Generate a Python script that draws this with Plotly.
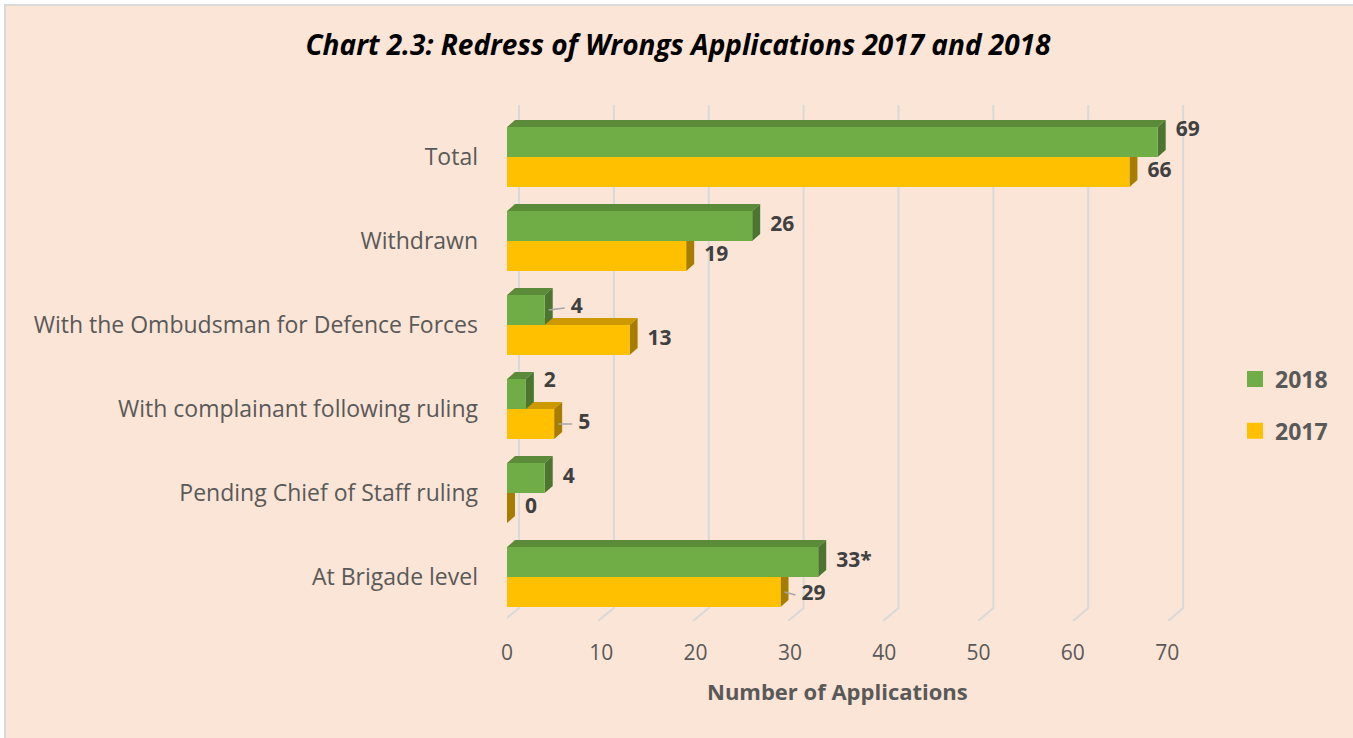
import plotly.graph_objects as go

# ---------------- data ----------------
categories = ["Total", "Withdrawn", "With the Ombudsman for Defence Forces",
              "With complainant following ruling", "Pending Chief of Staff ruling",
              "At Brigade level"]
values_2018 = [69, 26, 4, 2, 4, 33]
values_2017 = [66, 19, 13, 5, 0, 29]
labels_2018 = ["69", "26", "4", "2", "4", "33*"]
labels_2017 = ["66", "19", "13", "5", "0", "29"]
x_ticks = [0, 10, 20, 30, 40, 50, 60, 70]
series_names = ["2018", "2017"]

# ---------------- layout constants ----------------
W, H = 1353, 738
ML, MR, MT, MB = 507, 167, 100, 117
XMAX = 72
plot_w = W - ML - MR
plot_h = H - MT - MB
UPY = 84.0                      # px per category
YMIN = -44 / UPY
YMAX = YMIN + plot_h / UPY
ux = plot_w / XMAX              # px per x unit


def px2x(p):
    return p / ux


def px2y(p):
    return p / UPY


HALF = px2y(15)
DX, DY = px2x(8), px2y(7)
BG = "#FBE5D6"
GREEN = {"front": "#70AD47", "top": "#5B8B39", "side": "#4B7530"}
GOLD = {"front": "#FFC000", "top": "#CC9A00", "side": "#A67D00"}
FONT = "Open Sans"

n = len(categories)
pos = [n - 1 - i for i in range(n)]

fig = go.Figure()

# ---------------- 3D-ish gridlines (back wall + floor) ----------------
gx, gy = [], []
for t in x_ticks:
    frac = t / x_ticks[-1]
    back = t + px2x(12 + 4 * frac)
    foot = t + px2x(-4 + 5 * frac)
    gx += [back, back, foot, None]
    gy += [YMAX - px2y(5), YMIN + px2y(13), YMIN, None]
fig.add_trace(go.Scatter(x=gx, y=gy, mode="lines", line=dict(color="#D9D9D9", width=2),
                         hoverinfo="skip", showlegend=False))


def faces(vals, upper):
    out = {"front": ([], []), "top": ([], []), "side": ([], [])}
    for v, yc in zip(vals, pos):
        lo = yc if upper else yc - 2 * HALF
        hi = lo + 2 * HALF
        fx, fy = out["front"]
        fx += [0, v, v, 0, 0, None]
        fy += [lo, lo, hi, hi, lo, None]
        tx, ty = out["top"]
        tx += [0, v, v + DX, DX, 0, None]
        ty += [hi, hi, hi + DY, hi + DY, hi, None]
        sx, sy = out["side"]
        sx += [v, v + DX, v + DX, v, v, None]
        sy += [lo, lo + DY, hi + DY, hi, lo, None]
    return out


for vals, upper, cols in [(values_2017, False, GOLD), (values_2018, True, GREEN)]:
    f = faces(vals, upper)
    for key in ["top", "side", "front"]:
        xs, ys = f[key]
        fig.add_trace(go.Scatter(x=xs, y=ys, mode="lines", fill="toself",
                                 fillcolor=cols[key], line=dict(width=0, color=cols[key]),
                                 hoverinfo="skip", showlegend=False))

# ---------------- data labels ----------------
# nudges: (series, index) -> (dx px, dy px up, leader line)
nudges = {("2018", 0): (0, 11, False), ("2018", 2): (8, 2, True),
          ("2018", 3): (0, 12, False), ("2017", 3): (6, 0, True),
          ("2017", 5): (3, -3, True)}
lx, ly, lt = [], [], []
leadx, leady = [], []
for name, vals, labs, upper in [("2018", values_2018, labels_2018, True),
                                ("2017", values_2017, labels_2017, False)]:
    for i, (v, lab) in enumerate(zip(vals, labs)):
        yc = pos[i] + (HALF if upper else -HALF)
        ndx, ndy, lead = nudges.get((name, i), (0, 0, False))
        x = v + px2x(18 + ndx)
        y = yc + px2y(ndy)
        lx.append(x)
        ly.append(y)
        lt.append(lab)
        if lead:
            leadx += [v + px2x(4), x - px2x(6), None]
            leady += [yc, y, None]
fig.add_trace(go.Scatter(x=leadx, y=leady, mode="lines", line=dict(color="#A6A6A6", width=1.5),
                         hoverinfo="skip", showlegend=False))
fig.add_trace(go.Scatter(x=lx, y=ly, text=lt, mode="text", textposition="middle right",
                         textfont=dict(family=FONT, size=21, color="#404040", weight="bold"),
                         cliponaxis=False, hoverinfo="skip", showlegend=False))

# ---------------- legend entries ----------------
for name, col in [("2018", GREEN["front"]), ("2017", GOLD["front"])]:
    fig.add_trace(go.Scatter(x=[None], y=[None], mode="markers", name=name, legendgroup=name,
                             marker=dict(symbol="square", size=16, color=col)))

# ---------------- layout ----------------
fig.update_layout(
    width=W, height=H,
    margin=dict(l=ML, r=MR, t=MT, b=MB, pad=0),
    paper_bgcolor="white", plot_bgcolor="rgba(0,0,0,0)",
    font=dict(family=FONT, color="#595959"),
    title=dict(text="Chart 2.3: Redress of Wrongs Applications 2017 and 2018",
               x=(678) / W, xanchor="center", y=1 - 45 / H, yanchor="middle",
               font=dict(family=FONT, size=28, color="black", weight="bold", style="italic")),
    xaxis=dict(range=[0, XMAX], tickvals=x_ticks, showgrid=False, zeroline=False,
               showline=False, ticks="", tickfont=dict(size=21, color="#595959"),
               ticklabelstandoff=17, fixedrange=True),
    yaxis=dict(range=[YMIN, YMAX], tickvals=pos, ticktext=categories, showgrid=False,
               zeroline=False, showline=False, ticks="",
               tickfont=dict(size=23, color="#595959"), ticklabelstandoff=28, fixedrange=True),
    legend=dict(x=(1235 - ML) / plot_w, xanchor="left", y=(H - MB - 405) / plot_h,
                yanchor="middle", traceorder="grouped", tracegroupgap=19,
                font=dict(size=23, color="#595959", weight="bold"),
                bgcolor="rgba(0,0,0,0)"),
    shapes=[dict(type="rect", xref="paper", yref="paper", layer="below",
                 x0=(5 - ML) / plot_w, x1=(W + 20 - ML) / plot_w,
                 y0=(H - MB - (H + 20)) / plot_h, y1=(H - MB - 5) / plot_h,
                 fillcolor=BG, line=dict(color="#D9D9D9", width=2))],
    annotations=[dict(text="<b>Number of Applications</b>", xref="x", yref="paper",
                      x=x_ticks[-1] / 2, y=(H - MB - 691) / plot_h, showarrow=False,
                      xanchor="center", yanchor="middle",
                      font=dict(size=22, color="#595959"))],
)

fig.write_html("out.html", config={"displayModeBar": False},
               post_script="document.body.style.margin='0';")
